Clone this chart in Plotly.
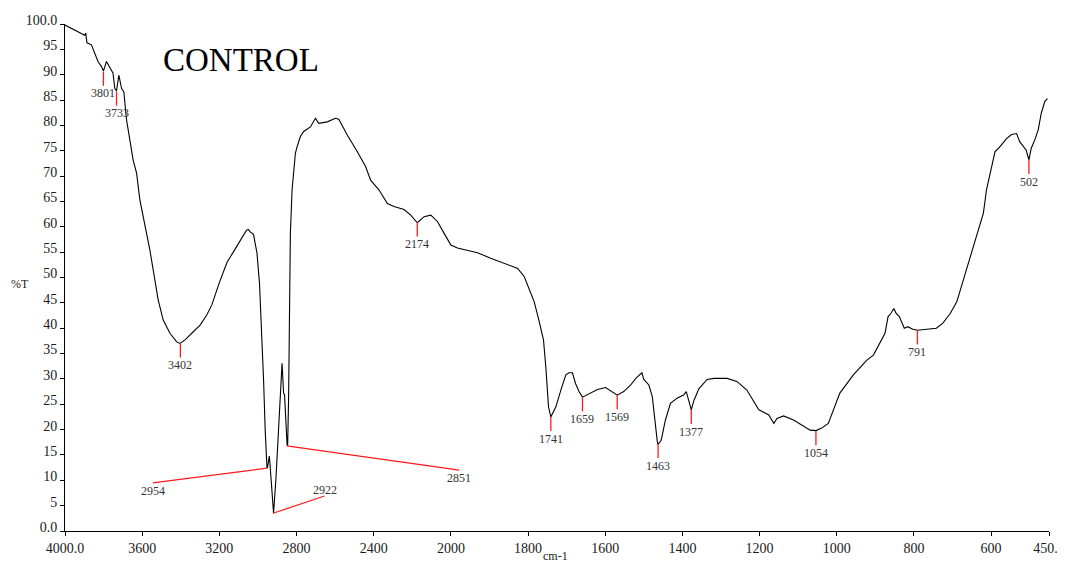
import numpy as np
import plotly.graph_objects as go

# ---------------- data ----------------
wavenumber = [4000, 3976, 3924, 3898, 3893, 3886, 3863, 3829, 3811, 3801, 3785, 3768, 3751, 3742,
              3733, 3721, 3707, 3695, 3681, 3647, 3629, 3612, 3560, 3517, 3491, 3456, 3421, 3404,
              3378, 3335, 3300, 3265, 3239, 3200, 3160, 3120, 3090, 3060, 3050, 3040, 3023, 3005,
              2992, 2979, 2971, 2962, 2957, 2953, 2950, 2941, 2938, 2927, 2919, 2907, 2893, 2884,
              2875, 2867, 2862, 2849, 2846, 2841, 2837, 2832, 2823, 2806, 2797, 2780, 2763, 2728,
              2702, 2685, 2641, 2598, 2581, 2537, 2485, 2442, 2416, 2373, 2329, 2295, 2243, 2208,
              2174, 2139, 2104, 2069, 2035, 2000, 1983, 1931, 1897, 1862, 1827, 1810, 1797, 1784,
              1772, 1760, 1754, 1747, 1741, 1728, 1715, 1702, 1694, 1685, 1677, 1668, 1659, 1638,
              1620, 1599, 1582, 1569, 1552, 1534, 1521, 1509, 1505, 1500, 1487, 1478, 1472, 1465,
              1463, 1455, 1444, 1431, 1414, 1397, 1390, 1383, 1377, 1370, 1357, 1336, 1318, 1284,
              1259, 1233, 1202, 1176, 1163, 1155, 1138, 1112, 1086, 1069, 1054, 1039, 1022, 1009,
              992, 957, 922, 905, 884, 875, 867, 860, 852, 846, 838, 829, 825, 816, 803, 791, 768,
              742, 725, 706, 689, 672, 655, 637, 620, 612, 603, 590, 577, 560, 547, 534, 526, 517,
              509, 502, 496, 487, 478, 470, 461, 454]
transmittance = [99.8, 99.3, 98.2, 97.8, 98.2, 96.3, 95.9, 92.6, 91.6, 90.7, 92.6, 91.3, 90.3, 87.3,
                 86.8, 89.9, 87.3, 86.6, 81.1, 73.2, 70.6, 65.3, 55.4, 45.6, 41.6, 39.0, 37.3, 37.0,
                 37.7, 39.3, 40.6, 42.6, 44.6, 49.0, 53.0, 55.5, 57.5, 59.3, 59.5, 59.0, 58.5, 54.8,
                 48.9, 39.0, 30.0, 19.5, 13.8, 12.4, 12.6, 14.8, 13.4, 8.1, 3.5, 10.1, 19.9, 27.8,
                 33.1, 27.2, 26.8, 17.0, 16.8, 26.5, 42.0, 58.7, 67.3, 74.5, 75.8, 77.8, 78.8, 79.7,
                 81.4, 80.4, 80.7, 81.4, 81.2, 78.1, 74.8, 71.9, 69.2, 67.3, 64.6, 64.0, 63.4, 62.3,
                 60.8, 62.0, 62.3, 61.0, 58.7, 56.4, 55.8, 54.9, 53.8, 52.8, 51.8, 50.2, 47.5, 45.2,
                 41.6, 37.7, 32.4, 24.5, 22.5, 24.5, 27.8, 30.8, 31.2, 31.2, 29.1, 27.5, 26.4, 27.2,
                 27.9, 28.3, 27.5, 26.8, 27.5, 28.8, 30.1, 30.8, 31.2, 29.9, 28.8, 26.5, 21.9, 17.6,
                 17.1, 17.9, 21.9, 25.2, 26.2, 26.8, 27.5, 25.8, 23.9, 25.8, 28.1, 29.9, 30.1, 30.1,
                 29.5, 27.8, 23.9, 22.9, 21.2, 22.2, 22.7, 21.9, 20.6, 19.9, 19.8, 20.3, 21.2, 23.9,
                 27.2, 30.8, 33.7, 34.7, 37.7, 39.0, 42.3, 42.9, 43.9, 42.9, 42.3, 40.6, 40.0, 40.3,
                 39.8, 39.6, 39.8, 40.0, 41.0, 42.9, 45.2, 49.5, 53.5, 58.0, 62.7, 67.3, 70.6, 74.8,
                 75.8, 77.4, 78.2, 78.4, 76.8, 75.8, 75.1, 73.2, 75.5, 77.1, 79.1, 82.4, 84.7, 85.3]

# peaks marked with a short vertical red line and a label below
peak_wn = [3801, 3733, 3402, 2174, 1741, 1659, 1569, 1463, 1377, 1054, 791, 502]
peak_T = [90.6, 86.7, 37.0, 60.9, 22.5, 26.4, 26.8, 17.2, 23.9, 19.7, 39.6, 73.2]

# peaks marked with a slanted red leader line
callout_wn = [2954, 2922, 2851]
callout_T = [12.4, 3.5, 16.8]
callout_end_wn = [3545, 2655, 1978]
callout_end_T = [9.5, 6.9, 12.0]
callout_text_T = [7.9, 8.0, 10.4]

x_ticks = [4000, 3600, 3200, 2800, 2400, 2000, 1800, 1600, 1400, 1200, 1000, 800, 600, 450]
x_ticktext = ["4000.0", "3600", "3200", "2800", "2400", "2000", "1800", "1600", "1400",
              "1200", "1000", "800", "600", "450.0"]
y_ticks = list(range(0, 101, 5))
y_ticktext = ["0.0"] + [str(v) for v in range(5, 100, 5)] + ["100.0"]


# FTIR scale: below 2000 cm-1 the axis is expanded twofold
def to_axis(w):
    w = np.asarray(w, dtype=float)
    return np.where(w >= 2000, w, 2 * w - 2000)


SERIF = "Liberation Serif, Times New Roman, serif"
RED = "#ff1a1a"
LINE_LEN = 2.8
LABEL_GAP = 1.5

fig = go.Figure()

fig.add_trace(go.Scatter(x=to_axis(wavenumber), y=transmittance, mode="lines",
                         line=dict(color="black", width=1.1), hoverinfo="skip",
                         showlegend=False))

# vertical markers
vx, vy = [], []
for w, t in zip(peak_wn, peak_T):
    xv = float(to_axis(w))
    vx += [xv, xv, None]
    vy += [t, t - LINE_LEN, None]
fig.add_trace(go.Scatter(x=vx, y=vy, mode="lines", line=dict(color=RED, width=1.3),
                         hoverinfo="skip", showlegend=False))

# slanted leaders
sx, sy = [], []
for w, t, we, te in zip(callout_wn, callout_T, callout_end_wn, callout_end_T):
    sx += [float(to_axis(w)), float(to_axis(we)), None]
    sy += [t, te, None]
fig.add_trace(go.Scatter(x=sx, y=sy, mode="lines", line=dict(color=RED, width=1.2),
                         hoverinfo="skip", showlegend=False))

annotations = []
for w, t in zip(peak_wn, peak_T):
    annotations.append(dict(x=float(to_axis(w)), y=t - LINE_LEN - LABEL_GAP, text=str(w),
                            showarrow=False, xanchor="center", yanchor="middle",
                            font=dict(family=SERIF, size=12, color="#333")))
for w, we, tt in zip(callout_wn, callout_end_wn, callout_text_T):
    annotations.append(dict(x=float(to_axis(we)), y=tt, text=str(w), showarrow=False,
                            xanchor="center", yanchor="middle",
                            font=dict(family=SERIF, size=12, color="#333")))

annotations.append(dict(x=float(to_axis(3087)), y=92.9, text="CONTROL", showarrow=False,
                        xanchor="center", yanchor="middle",
                        font=dict(family=SERIF, size=33, color="black")))
annotations.append(dict(xref="paper", yref="y", x=-0.046, y=48.7, text="%T", showarrow=False,
                        xanchor="center", yanchor="middle",
                        font=dict(family=SERIF, size=12, color="#222")))
annotations.append(dict(xref="paper", yref="paper", x=0.498, y=-0.049, text="cm-1",
                        showarrow=False, xanchor="center", yanchor="middle",
                        font=dict(family=SERIF, size=12, color="#222")))

# the page body adds an 8 px offset, so the figure is sized to fit the 1065x563 window
fig.update_layout(
    width=1057, height=555,
    margin=dict(l=57, r=16, t=16, b=32, autoexpand=False),
    paper_bgcolor="white", plot_bgcolor="white",
    annotations=annotations,
    xaxis=dict(range=[4000, -1100], tickmode="array", tickvals=to_axis(x_ticks).tolist(),
               ticktext=x_ticktext, showgrid=False, zeroline=False, showline=True,
               linecolor="black", linewidth=1, ticks="outside", ticklen=4, tickcolor="black",
               automargin=False,
               tickfont=dict(family=SERIF, size=14, color="#1a1a1a")),
    yaxis=dict(range=[0, 100], tickmode="array", tickvals=y_ticks, ticktext=y_ticktext,
               showgrid=False, zeroline=False, showline=True, linecolor="black", linewidth=1,
               ticks="outside", ticklen=4, tickcolor="black", automargin=False,
               ticklabelshift=-4,
               tickfont=dict(family=SERIF, size=14, color="#1a1a1a")),
)

fig.write_html("out.html")
